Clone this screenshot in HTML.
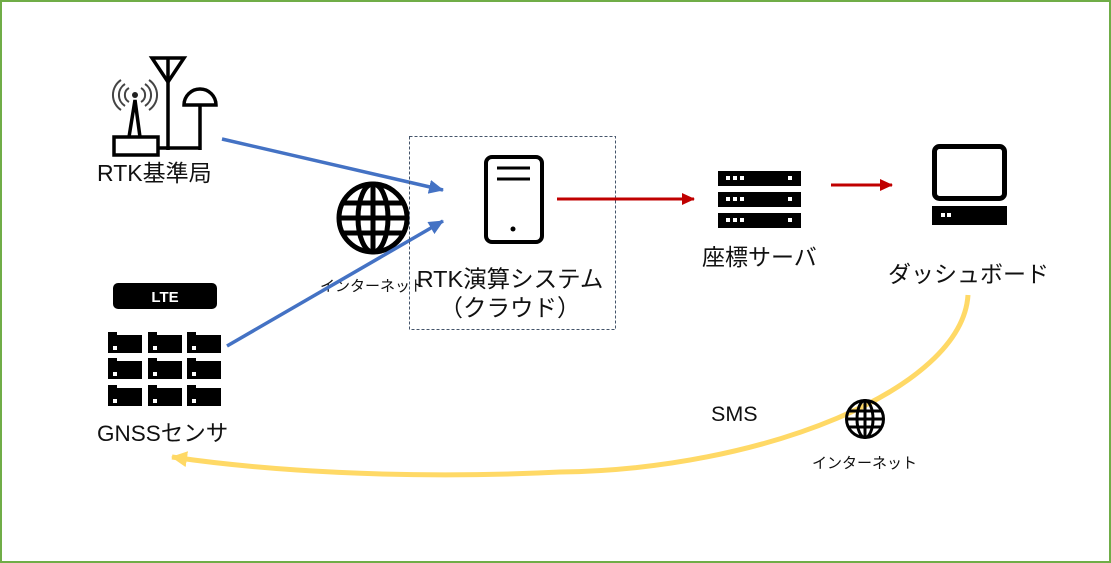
<!DOCTYPE html>
<html><head><meta charset="utf-8"><style>
html,body{margin:0;padding:0;background:#fff;}
svg{display:block;}
text{font-family:"Liberation Sans","Noto Sans CJK JP",sans-serif;fill:#111;}
</style></head><body>
<svg width="1111" height="563" viewBox="0 0 1111 563" xmlns="http://www.w3.org/2000/svg">
<defs>
<marker id="ab" markerUnits="userSpaceOnUse" markerWidth="16" markerHeight="14" refX="14" refY="7" orient="auto"><path d="M0,0 L15,7 L0,14 z" fill="#4472c4"/></marker>
<marker id="ar" markerUnits="userSpaceOnUse" markerWidth="14" markerHeight="12" refX="12" refY="6" orient="auto"><path d="M0,0 L13,6 L0,12 z" fill="#c00000"/></marker>
<marker id="ay" markerUnits="userSpaceOnUse" markerWidth="18" markerHeight="16" refX="15" refY="8" orient="auto"><path d="M0,0 L16,8 L0,16 z" fill="#ffd966"/></marker>
</defs>
<rect x="1" y="1" width="1109" height="561" fill="#fff" stroke="#70ad47" stroke-width="2"/>

<!-- RTK base station icon -->
<g stroke="#000" stroke-width="3.5" fill="none">
<path d="M152,58 L184,58 L168,82 Z"/>
<line x1="168" y1="58" x2="168" y2="150"/>
<line x1="158" y1="148" x2="201" y2="148"/>
<line x1="200" y1="105" x2="200" y2="150"/>
<rect x="114" y="137" width="44" height="18" fill="#fff"/>
<path d="M129,137 L135,100 L140,137"/>
<path d="M184,105 A16,16 0 0 1 216,105 Z" fill="#fff"/>
</g>
<circle cx="135" cy="95" r="3" fill="#222"/>
<g stroke="#444" stroke-width="2" fill="none">
<path d="M129,88 A8,8 0 0 0 129,102"/><path d="M141,88 A8,8 0 0 1 141,102"/>
<path d="M125,84 A13,13 0 0 0 125,106"/><path d="M145,84 A13,13 0 0 1 145,106"/>
<path d="M121,80 A18,18 0 0 0 121,110"/><path d="M149,80 A18,18 0 0 1 149,110"/>
</g>
<text x="97" y="181" font-size="23">RTK基準局</text>

<!-- LTE + GNSS sensors -->
<rect x="113" y="283" width="104" height="26" rx="5" fill="#000"/>
<text x="165" y="302" font-size="15" font-weight="bold" text-anchor="middle" style="fill:#fff">LTE</text>
<g id="g1">
<path d="M108,332 h9 v3 h25 v18 h-34 z" fill="#000"/>
<rect x="113" y="346" width="4" height="4" fill="#fff"/>
</g>
<use href="#g1" x="40"/><use href="#g1" x="79"/>
<use href="#g1" y="26"/><use href="#g1" x="40" y="26"/><use href="#g1" x="79" y="26"/>
<use href="#g1" y="53"/><use href="#g1" x="40" y="53"/><use href="#g1" x="79" y="53"/>
<text x="97" y="441" font-size="22.5">GNSSセンサ</text>

<!-- globe left -->
<g stroke="#000" stroke-width="5" fill="none">
<circle cx="373" cy="218" r="34"/>
<ellipse cx="373" cy="218" rx="15" ry="34"/>
<line x1="373" y1="184" x2="373" y2="252"/>
<line x1="340" y1="218" x2="406" y2="218"/>
<line x1="343" y1="203" x2="403" y2="203"/>
<line x1="343" y1="233" x2="403" y2="233"/>
</g>
<text x="320" y="291" font-size="15">インターネット</text>

<!-- blue arrows -->
<line x1="222" y1="139" x2="443" y2="190" stroke="#4472c4" stroke-width="3.5" marker-end="url(#ab)"/>
<line x1="227" y1="346" x2="443" y2="221" stroke="#4472c4" stroke-width="3.5" marker-end="url(#ab)"/>

<!-- dashed cloud box -->
<rect x="409.5" y="136.5" width="206" height="193" fill="none" stroke="#44546a" stroke-width="1" stroke-dasharray="3,2"/>
<rect x="486" y="157" width="56" height="85" rx="6" fill="none" stroke="#000" stroke-width="4"/>
<line x1="497" y1="168" x2="530" y2="168" stroke="#000" stroke-width="3"/>
<line x1="497" y1="179" x2="530" y2="179" stroke="#000" stroke-width="3"/>
<circle cx="513" cy="229" r="2.5" fill="#000"/>
<text x="510" y="287" font-size="23.5" text-anchor="middle">RTK演算システム</text>
<text x="510" y="316" font-size="23.5" text-anchor="middle">（クラウド）</text>

<!-- red arrows -->
<line x1="557" y1="199" x2="694" y2="199" stroke="#c00000" stroke-width="3" marker-end="url(#ar)"/>
<line x1="831" y1="185" x2="892" y2="185" stroke="#c00000" stroke-width="3" marker-end="url(#ar)"/>

<!-- rack server -->
<g id="row">
<rect x="718" y="171" width="83" height="15" fill="#000"/>
<rect x="726" y="176" width="4" height="4" fill="#fff"/>
<rect x="733" y="176" width="4" height="4" fill="#fff"/>
<rect x="740" y="176" width="4" height="4" fill="#fff"/>
<rect x="788" y="176" width="4" height="4" fill="#fff"/>
</g>
<use href="#row" y="21"/><use href="#row" y="42"/>
<text x="702" y="265" font-size="23">座標サーバ</text>

<!-- monitor -->
<rect x="934.5" y="146.5" width="70" height="52" rx="5" fill="none" stroke="#000" stroke-width="5"/>
<rect x="932" y="206" width="75" height="19" fill="#000"/>
<rect x="941" y="213" width="4" height="4" fill="#fff"/>
<rect x="947" y="213" width="4" height="4" fill="#fff"/>
<text x="888" y="282" font-size="23">ダッシュボード</text>

<!-- yellow curve -->
<path d="M968,295 C962,390 760,470 560,472 C400,480 260,470 172,457" fill="none" stroke="#ffd966" stroke-width="5" marker-end="url(#ay)"/>
<text x="711" y="421" font-size="21.5">SMS</text>

<!-- globe small -->
<g stroke="#000" stroke-width="3" fill="none">
<circle cx="865" cy="419" r="18.5"/>
<ellipse cx="865" cy="419" rx="8" ry="18.5"/>
<line x1="865" y1="400" x2="865" y2="438"/>
<line x1="847" y1="419" x2="883" y2="419"/>
<line x1="849" y1="411" x2="881" y2="411"/>
<line x1="849" y1="427" x2="881" y2="427"/>
</g>
<text x="812" y="468" font-size="15">インターネット</text>
</svg>
</body></html>
